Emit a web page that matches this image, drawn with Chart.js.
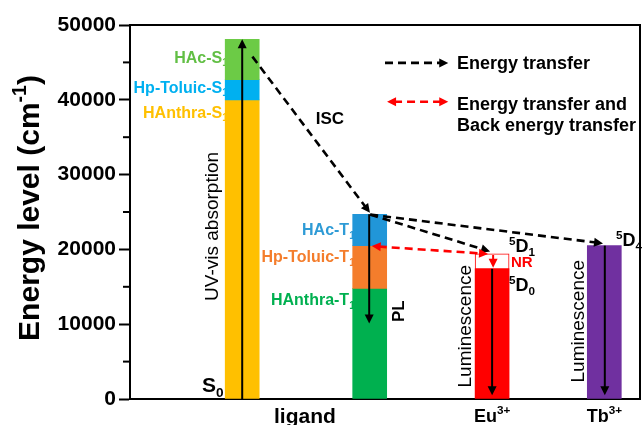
<!DOCTYPE html>
<html>
<head>
<meta charset="utf-8">
<script src="https://cdn.jsdelivr.net/npm/chart.js@4"></script>
<style>
  html, body { margin: 0; padding: 0; background: #fff; }
  #wrap { width: 644px; height: 425px; position: relative; }
</style>
</head>
<body>
<div id="wrap"><canvas id="chart"></canvas></div>
<script>
// energy levels (cm-1), one entry per coloured block
var columnX = [22, 47, 71, 93];          // ligand S, ligand T, Eu3+, Tb3+
var segColumn = [0, 0, 0, 1, 1, 1, 2, 2, 3];
var segBottom = [0, 40000, 42700, 0, 14800, 20500, 0, 17400, 0];
var segTop = [40000, 42700, 48100, 14800, 20500, 24700, 17400, 19400, 20500];
var segColor = ['#FFC000', '#00B0F0', '#6CCB46', '#00B04F', '#F47D2C', '#2196D8', '#FF0000', '#FFFFFF', '#7030A0'];
var yTicks = [0, 10000, 20000, 30000, 40000, 50000];
var levelNames = ['HAnthra-S', 'Hp-Toluic-S', 'HAc-S', 'HAnthra-T', 'Hp-Toluic-T', 'HAc-T'];
var levelY = [38400, 41730, 45730, 13330, 19070, 22670];
var levelColor = ['#FFC000', '#00B0F0', '#62BF45', '#00B050', '#F47D2C', '#2E9BD6'];

var FONT = "'Liberation Sans', Arial, sans-serif";

// arrows: [x1, y1, x2, y2, colour, dashed, headAtStart]
var arrows = [
  [22, 0, 22, 48100, '#000', false, false],          // UV-vis absorption
  [24, 45770, 47.05, 24890, '#000', true, false],    // ISC
  [46.9, 24700, 46.9, 10100, '#000', false, false],  // PL
  [47.1, 24650, 92.75, 20800, '#000', true, false],  // ET -> Tb 5D4
  [47.1, 24650, 70.6, 19730, '#000', true, false],   // ET -> Eu 5D1
  [47.4, 20440, 70.2, 19400, '#FF0000', true, true], // ET / back ET
  [71.2, 19250, 71.2, 17550, '#FF0000', false, false], // NR
  [71.0, 17400, 71.0, 500, '#000', false, false],    // Eu luminescence
  [93.1, 20500, 93.1, 500, '#000', false, false],    // Tb luminescence
  [50, 44930, 62.4, 44930, '#000', true, false],     // legend
  [50.4, 39730, 62.4, 39730, '#FF0000', true, true]  // legend
];

function rich(ctx, parts, x, y, align, size, color) {
  var w = 0, i, p, fs;
  for (i = 0; i < parts.length; i++) {
    p = parts[i];
    fs = p[1] === 'n' ? size : size * 0.65;
    ctx.font = 'bold ' + fs + 'px ' + FONT;
    w += ctx.measureText(p[0]).width;
  }
  var cx = align === 'right' ? x - w : align === 'center' ? x - w / 2 : x;
  ctx.fillStyle = color;
  ctx.textAlign = 'left';
  ctx.textBaseline = 'alphabetic';
  for (i = 0; i < parts.length; i++) {
    p = parts[i];
    fs = p[1] === 'n' ? size : size * 0.65;
    ctx.font = 'bold ' + fs + 'px ' + FONT;
    var dy = p[1] === 'sub' ? size * 0.22 : p[1] === 'sup' ? -size * 0.42 : 0;
    ctx.fillText(p[0], cx, y + dy);
    cx += ctx.measureText(p[0]).width;
  }
}

function vtext(ctx, txt, x, y, size, weight) {
  ctx.save();
  ctx.translate(x, y);
  ctx.rotate(-Math.PI / 2);
  ctx.font = weight + ' ' + size + 'px ' + FONT;
  ctx.fillStyle = '#000';
  ctx.textAlign = 'center';
  ctx.textBaseline = 'middle';
  ctx.fillText(txt, 0, 0);
  ctx.restore();
}

function head(ctx, tx, ty, ang, color) {
  var L = 9, W = 4.5;
  ctx.fillStyle = color;
  ctx.beginPath();
  ctx.moveTo(tx, ty);
  ctx.lineTo(tx - L * Math.cos(ang) + W * Math.sin(ang), ty - L * Math.sin(ang) - W * Math.cos(ang));
  ctx.lineTo(tx - L * Math.cos(ang) - W * Math.sin(ang), ty - L * Math.sin(ang) + W * Math.cos(ang));
  ctx.closePath();
  ctx.fill();
}

var annot = {
  id: 'annot',
  beforeDatasetsDraw: function (chart) {
    var ctx = chart.ctx, sx = chart.scales.x, sy = chart.scales.y;
    ctx.save();
    for (var i = 0; i < levelNames.length; i++) {
      var xr = i < 3 ? 19.2 : 44.1;
      rich(ctx, [[levelNames[i], 'n'], ['1', 'sub']], sx.getPixelForValue(xr), sy.getPixelForValue(levelY[i]) + 6, 'right', 16, levelColor[i]);
    }
    ctx.restore();
  },
  afterDatasetsDraw: function (chart) {
    var ctx = chart.ctx, sx = chart.scales.x, sy = chart.scales.y, a = chart.chartArea;
    ctx.save();
    // frame top / right
    ctx.strokeStyle = '#000';
    ctx.lineWidth = 2;
    ctx.beginPath();
    ctx.moveTo(a.left - 1, a.top);
    ctx.lineTo(a.right, a.top);
    ctx.lineTo(a.right, a.bottom + 1);
    ctx.stroke();
    // minor ticks
    for (var v = 5000; v < 50000; v += 10000) {
      var py = sy.getPixelForValue(v);
      ctx.beginPath();
      ctx.moveTo(a.left - 7, py);
      ctx.lineTo(a.left, py);
      ctx.stroke();
    }
    // arrows
    arrows.forEach(function (r) {
      var x1 = sx.getPixelForValue(r[0]), y1 = sy.getPixelForValue(r[1]);
      var x2 = sx.getPixelForValue(r[2]), y2 = sy.getPixelForValue(r[3]);
      var ang = Math.atan2(y2 - y1, x2 - x1);
      var sh = 7;
      var ex = x2 - sh * Math.cos(ang), ey = y2 - sh * Math.sin(ang);
      var bx = r[6] ? x1 + sh * Math.cos(ang) : x1, by = r[6] ? y1 + sh * Math.sin(ang) : y1;
      ctx.strokeStyle = r[4];
      ctx.lineWidth = r[5] ? 2.6 : 2;
      ctx.setLineDash(r[5] ? [8, 5] : []);
      ctx.beginPath();
      ctx.moveTo(bx, by);
      ctx.lineTo(ex, ey);
      ctx.stroke();
      ctx.setLineDash([]);
      head(ctx, x2, y2, ang, r[4]);
      if (r[6]) head(ctx, x1, y1, ang + Math.PI, r[4]);
    });
    // texts
    var P = function (x, y) { return [sx.getPixelForValue(x), sy.getPixelForValue(y)]; };
    var p;
    p = P(14.1, 930); rich(ctx, [['S', 'n'], ['0', 'sub']], p[0], p[1], 'left', 21, '#000');
    p = P(39.2, 37600); rich(ctx, [['ISC', 'n']], p[0], p[1] + 6, 'center', 17, '#000');
    p = P(16.3, 23070); vtext(ctx, 'UV-vis absorption', p[0], p[1], 19, 'normal');
    p = P(52.9, 11730); vtext(ctx, 'PL', p[0], p[1], 17, 'bold');
    p = P(65.9, 9730); vtext(ctx, 'Luminescence', p[0], p[1], 19, 'normal');
    p = P(88.0, 10400); vtext(ctx, 'Luminescence', p[0], p[1], 19, 'normal');
    p = P(74.3, 19600); rich(ctx, [['5', 'sup'], ['D', 'n'], ['1', 'sub']], p[0], p[1], 'left', 18, '#000');
    p = P(74.7, 18270); rich(ctx, [['NR', 'n']], p[0], p[1] + 5, 'left', 15, '#FF0000');
    p = P(74.3, 14400); rich(ctx, [['5', 'sup'], ['D', 'n'], ['0', 'sub']], p[0], p[1], 'left', 18, '#000');
    p = P(95.3, 20400); rich(ctx, [['5', 'sup'], ['D', 'n'], ['4', 'sub']], p[0], p[1], 'left', 18, '#000');
    // legend texts
    p = P(64.1, 44930); rich(ctx, [['Energy transfer', 'n']], p[0], p[1] + 6, 'left', 18, '#000');
    p = P(64.1, 39500); rich(ctx, [['Energy transfer and', 'n']], p[0], p[1] + 6, 'left', 18, '#000');
    p = P(64.1, 36670); rich(ctx, [['Back energy transfer', 'n']], p[0], p[1] + 6, 'left', 18, '#000');
    // x category labels
    var by0 = a.bottom;
    rich(ctx, [['ligand', 'n']], sx.getPixelForValue(34.3), by0 + 24, 'center', 21, '#000');
    rich(ctx, [['Eu', 'n'], ['3+', 'sup']], sx.getPixelForValue(columnX[2]), by0 + 23, 'center', 18, '#000');
    rich(ctx, [['Tb', 'n'], ['3+', 'sup']], sx.getPixelForValue(columnX[3]), by0 + 23, 'center', 18, '#000');
    // y axis title
    ctx.save();
    ctx.translate(39, 208);
    ctx.rotate(-Math.PI / 2);
    rich(ctx, [['Energy level (cm', 'n'], ['-1', 'sup'], [')', 'n']], 0, 0, 'center', 30, '#000');
    ctx.restore();
    ctx.restore();
  }
};

var points = segBottom.map(function (b, i) {
  return { x: columnX[segColumn[i]], y: [b, segTop[i]] };
});

new Chart(document.getElementById('chart'), {
  type: 'bar',
  data: {
    datasets: [{
      data: points,
      backgroundColor: segColor,
      borderColor: segColor.map(function (c, i) { return segColumn[i] === 2 ? '#FF0000' : c; }),
      borderWidth: segColor.map(function (c) { return c === '#FFFFFF' ? 1 : 0; }),
      borderSkipped: false,
      barThickness: 34
    }]
  },
  options: {
    responsive: true,
    maintainAspectRatio: false,
    animation: false,
    layout: { padding: { top: 25, right: 4, left: 0, bottom: 0 } },
    plugins: { legend: { display: false }, tooltip: { enabled: false } },
    scales: {
      x: {
        type: 'linear', min: 0, max: 100, offset: false,
        ticks: { display: false },
        grid: { display: false },
        border: { display: true, color: '#000', width: 2 },
        afterFit: function (s) { s.height = 26; }
      },
      y: {
        min: 0, max: 50000,
        afterBuildTicks: function (s) { s.ticks = yTicks.map(function (v) { return { value: v }; }); },
        ticks: {
          color: '#000', padding: 3,
          font: { family: FONT, size: 21, weight: 'bold' },
          callback: function (v) { return String(v); }
        },
        grid: { drawOnChartArea: false, drawTicks: true, tickLength: 11, tickWidth: 2, color: '#000' },
        border: { display: true, color: '#000', width: 2 },
        afterFit: function (s) { s.width = 130; }
      }
    }
  },
  plugins: [annot]
});
</script>
</body>
</html>
